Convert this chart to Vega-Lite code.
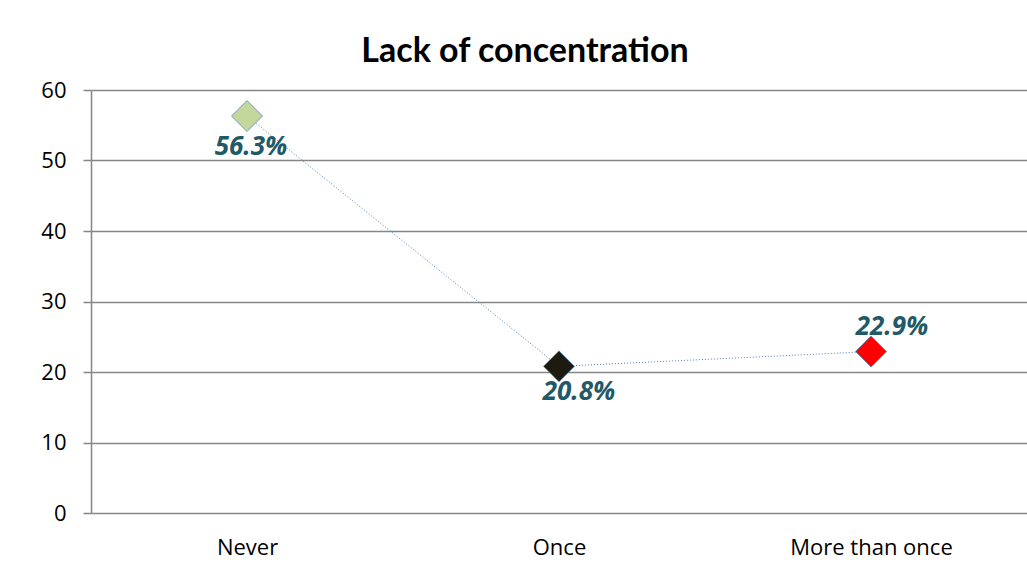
{
  "$schema": "https://vega.github.io/schema/vega-lite/v6.json",
  "autosize": {"type": "none"},
  "padding": {"left": 91, "top": 90, "right": 0, "bottom": 52},
  "width": 936,
  "height": 423,
  "background": "white",
  "title": {
    "text": "Lack of concentration",
    "font": "Lato",
    "fontSize": 34,
    "fontWeight": "bold",
    "color": "#000000",
    "anchor": "middle",
    "frame": "group",
    "baseline": "alphabetic",
    "offset": 26,
    "dy": 43,
    "dx": -34
  },
  "config": {
    "view": {"stroke": null},
    "axis": {"labelFont": "Open Sans", "labelFontSize": 22, "labelColor": "#000000"}
  },
  "data": {
    "values": [
      {"category": "Never", "value": 56.3, "label": "56.3%", "color": "#c3d69b"},
      {"category": "Once", "value": 20.8, "label": "20.8%", "color": "#1d1b10"},
      {"category": "More than once", "value": 22.9, "label": "22.9%", "color": "#ff0000"}
    ]
  },
  "encoding": {
    "x": {
      "field": "category",
      "type": "nominal",
      "sort": null,
      "scale": {"paddingInner": 0, "paddingOuter": 0},
      "axis": {
        "title": null,
        "labelAngle": 0,
        "ticks": false,
        "domain": false,
        "grid": false,
        "labelPadding": 24
      }
    },
    "y": {
      "field": "value",
      "type": "quantitative",
      "scale": {"domain": [0, 60], "nice": false},
      "axis": {
        "title": null,
        "values": [0, 10, 20, 30, 40, 50, 60],
        "tickSize": 8,
        "tickColor": "#868686",
        "tickWidth": 1.5,
        "domainColor": "#868686",
        "domainWidth": 1.5,
        "gridColor": "#868686",
        "gridWidth": 1.5,
        "gridOpacity": 1,
        "labelPadding": 17
      }
    }
  },
  "layer": [
    {
      "mark": {"type": "line", "color": "#4f81bd", "strokeWidth": 1, "strokeDash": [1, 2]}
    },
    {
      "mark": {"type": "point", "shape": "diamond", "filled": true, "size": 960, "opacity": 1, "stroke": "#4f81bd", "strokeWidth": 0.75},
      "encoding": {
        "fill": {"field": "color", "type": "nominal", "scale": null}
      }
    },
    {
      "transform": [{"filter": "datum.category == 'Never'"}],
      "mark": {"type": "text", "font": "Open Sans", "fontSize": 26, "fontWeight": "bold", "fontStyle": "italic", "color": "#215968", "baseline": "alphabetic", "dx": 4, "dy": 39},
      "encoding": {"text": {"field": "label"}}
    },
    {
      "transform": [{"filter": "datum.category == 'Once'"}],
      "mark": {"type": "text", "font": "Open Sans", "fontSize": 26, "fontWeight": "bold", "fontStyle": "italic", "color": "#215968", "baseline": "alphabetic", "dx": 20, "dy": 34},
      "encoding": {"text": {"field": "label"}}
    },
    {
      "transform": [{"filter": "datum.category == 'More than once'"}],
      "mark": {"type": "text", "font": "Open Sans", "fontSize": 26, "fontWeight": "bold", "fontStyle": "italic", "color": "#215968", "baseline": "alphabetic", "dx": 21, "dy": -17},
      "encoding": {"text": {"field": "label"}}
    }
  ]
}
